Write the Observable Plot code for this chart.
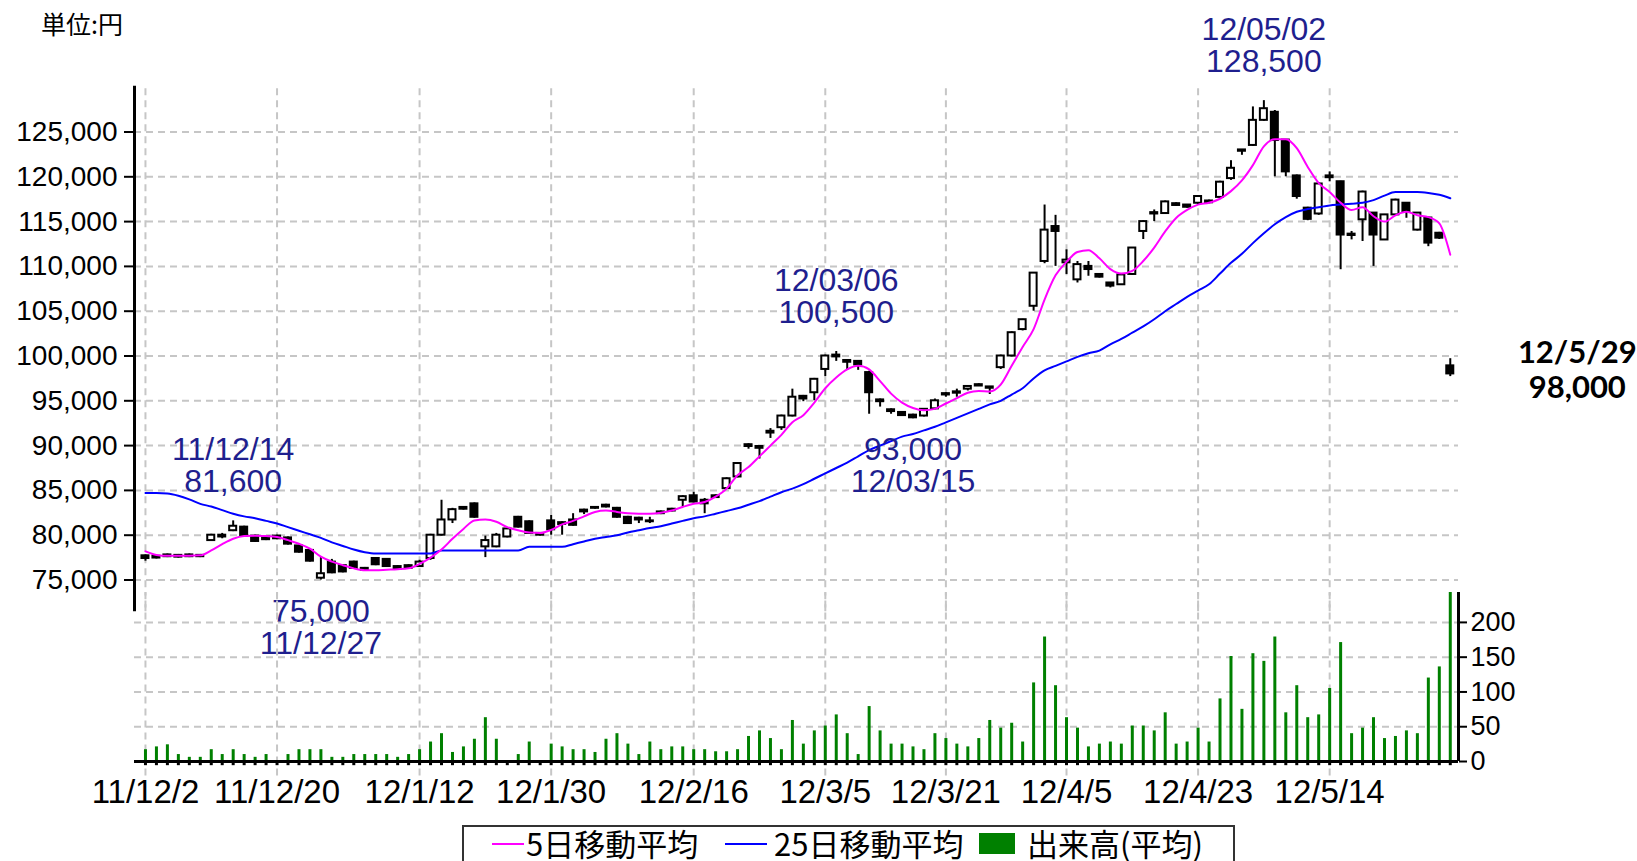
<!DOCTYPE html>
<html><head><meta charset="utf-8">
<script src="https://cdn.jsdelivr.net/npm/d3@7"></script>
<script src="https://cdn.jsdelivr.net/npm/@observablehq/plot@0.6"></script>
<style>
html,body{margin:0;padding:0;background:#fff;}
#wrap{position:relative;width:1637px;height:861px;overflow:hidden;background:#fff;}
#wrap svg{position:absolute;left:0;top:0;}
#unit{position:absolute;left:41px;top:5px;font:25px "Noto Sans CJK JP",sans-serif;color:#000;}
#legend{position:absolute;left:462px;top:825px;width:769px;height:34px;border:2px solid #333;border-bottom:none;background:#fff;font:31px/1.04 "Noto Sans CJK JP",sans-serif;color:#000;overflow:hidden;}
#legend .sw{position:absolute;}
#legend .tx{position:absolute;top:0px;white-space:nowrap;}
</style></head><body>
<div id="wrap"></div>
<script>
const dates = ["11/12/2","11/12/5","11/12/6","11/12/7","11/12/8","11/12/9","11/12/12","11/12/13","11/12/14","11/12/15","11/12/16","11/12/19","11/12/20","11/12/21","11/12/22","11/12/26","11/12/27","11/12/28","11/12/29","11/12/30",
"12/1/4","12/1/5","12/1/6","12/1/10","12/1/11","12/1/12","12/1/13","12/1/16","12/1/17","12/1/18","12/1/19","12/1/20","12/1/23","12/1/24","12/1/25","12/1/26","12/1/27","12/1/30","12/1/31",
"12/2/1","12/2/2","12/2/3","12/2/6","12/2/7","12/2/8","12/2/9","12/2/10","12/2/13","12/2/14","12/2/15","12/2/16","12/2/17","12/2/20","12/2/21","12/2/22","12/2/23","12/2/24","12/2/27","12/2/28","12/2/29",
"12/3/1","12/3/2","12/3/5","12/3/6","12/3/7","12/3/8","12/3/9","12/3/12","12/3/13","12/3/14","12/3/15","12/3/16","12/3/19","12/3/21","12/3/22","12/3/23","12/3/26","12/3/27","12/3/28","12/3/29","12/3/30",
"12/4/2","12/4/3","12/4/4","12/4/5","12/4/6","12/4/9","12/4/10","12/4/11","12/4/12","12/4/13","12/4/16","12/4/17","12/4/18","12/4/19","12/4/20","12/4/23","12/4/24","12/4/25","12/4/26","12/4/27",
"12/5/1","12/5/2","12/5/7","12/5/8","12/5/9","12/5/10","12/5/11","12/5/14","12/5/15","12/5/16","12/5/17","12/5/18","12/5/21","12/5/22","12/5/23","12/5/24","12/5/25","12/5/28","12/5/29"];

const open = [77700,77650,77800,77750,77800,77750,79400,79800,80500,80900,79900,79800,79900,79700,78800,78300,75200,77000,76600,77000,
76300,77400,77300,76500,76600,76500,77400,80000,81700,82900,83500,78700,78700,79800,82000,81500,80200,81600,81400,81700,
82800,83100,83350,83000,82000,81900,81600,82600,82900,83900,84400,83900,84200,85200,86500,90100,89900,91400,92000,93300,
95500,95900,98500,99900,99500,99400,98150,95100,94000,93700,93400,93300,94100,95800,95850,96300,96800,96550,98700,100000,
102950,105550,110550,114450,110400,108500,110000,109100,108150,107950,109100,113900,115850,115900,117000,116850,117050,117300,117700,119800,
123000,123500,126300,127200,124100,120100,116500,115850,119900,119450,113450,115200,115950,112950,115750,117050,114050,115400,113700,98900];
const close = [77400,77450,77600,77550,77600,77600,80000,80000,81000,79900,79300,79500,79600,79000,78100,77100,75700,75800,75900,76300,
76100,76700,76500,76200,76300,77000,80000,81700,82850,83100,82000,79400,80000,80700,80900,80200,80000,80600,81200,81100,
82600,83000,83150,82000,81300,81700,81500,82400,82700,84300,83700,83500,84400,86300,88000,89900,89700,91600,93300,95400,
95200,97400,100000,100100,99300,99000,95900,94900,93800,93350,93100,94050,95000,95650,96000,96600,96650,96400,100000,102600,
104050,109250,114050,113900,110700,110200,109650,108800,107800,109050,112050,115000,116000,117200,116800,116600,117800,117100,119400,120950,
122850,126300,127600,124050,120550,117800,115250,119200,120100,113500,113600,118300,113500,115750,117400,116100,115950,112600,113150,98000];
const high = [77800,77700,77900,77850,77900,77850,80100,80200,81600,81000,80000,79900,80000,79800,78900,78400,77600,77300,76700,77100,
76400,77500,77400,76600,76700,77200,80100,83900,83000,83200,83600,79900,80200,80800,82100,81600,80300,82200,81500,82400,
82900,83200,83450,83100,82100,82000,82000,82700,83000,84400,84800,84100,84500,86400,88100,90200,90000,91900,93400,96300,
95600,97500,100100,100500,99600,99500,98300,95200,94100,93800,93500,94100,95200,95900,96300,96700,96900,96600,100100,102700,
104100,109300,116850,115700,111850,110550,110550,109200,108200,109100,112100,115100,116300,117300,117100,116900,117900,117400,119500,121800,
123050,127800,128500,127400,124100,120200,116600,119300,120550,119500,113900,118400,116000,115800,117500,117100,116000,115500,113800,99700];
const low = [77100,77350,77500,77450,77500,77500,79300,79600,80400,79800,79200,79400,79500,78900,78000,77000,75000,75700,75800,76200,
76000,76600,76400,76100,76200,76400,77200,79900,81300,82800,81900,77500,78600,79700,80800,80100,79900,80000,80000,81000,
82300,82900,83050,81900,81200,81300,81300,82300,82600,83100,83600,82400,84100,85100,86400,89600,88500,90800,91700,93200,
94900,95000,97700,99400,98400,98400,93500,94300,93500,93300,93000,93200,94000,95400,95400,96100,96600,95700,98500,99900,
102800,105000,110300,110000,109100,108150,108900,108700,107600,107900,109000,113000,115000,115800,116700,116500,116900,117000,117500,119600,
122400,123400,126200,120000,120000,117500,115100,115700,119440,109630,112960,112780,110000,112900,115600,115370,113950,112200,113000,97700];

const ma5 = [78200,77800,77700,77700,77700,77750,78300,79000,79600,79900,79950,79900,79800,79450,79050,78500,77600,77050,76650,76300,
76100,76100,76150,76200,76300,76800,77500,78400,79600,80700,81650,81750,81500,80900,80550,80300,80250,80600,81200,81600,
82100,82600,82750,82600,82450,82400,82400,82500,82750,83150,83500,83700,84300,85200,86700,87600,88800,90000,91200,92600,
93400,94800,96400,97600,98500,98900,98500,97200,95800,94800,94200,93950,94100,94700,95300,95900,96100,96050,96800,98900,
101000,103000,106300,109000,110500,111600,111800,110900,109700,109200,109500,110600,112100,113900,115400,116300,116900,117100,117550,118400,
119600,121300,123400,124200,124200,123200,121100,119300,118300,117100,116300,116600,115600,115000,115700,116100,115700,115500,114800,111300];
const ma25 = [84700,84700,84650,84400,84000,83500,83200,82800,82400,82100,81900,81600,81300,80900,80500,80100,79700,79200,78800,78400,
78100,77950,77950,77950,77950,77950,77950,78300,78300,78300,78300,78300,78300,78300,78300,78700,78700,78700,78700,79000,
79300,79600,79800,80000,80300,80550,80800,81000,81300,81600,81900,82100,82400,82700,83000,83400,83800,84300,84800,85200,
85700,86300,86900,87500,88100,88800,89500,90000,90500,91000,91300,91700,92100,92600,93100,93600,94100,94600,95000,95700,
96400,97500,98400,98900,99400,99900,100300,100600,101300,101900,102600,103300,104100,105000,105800,106600,107300,108000,109200,110400,
111400,112600,113700,114700,115500,116100,116400,116600,116800,116900,117000,117100,117400,117900,118300,118300,118300,118200,118000,117600];
const volume = [17,21,24,10,6,6,17,10,17,10,6,10,0,10,17,17,17,6,6,10,
10,10,10,6,10,17,28,40,13,21,32,63,32,0,10,28,0,25,21,17,
17,13,32,40,25,10,28,17,21,21,17,17,14,14,17,36,44,33,17,59,
25,44,51,67,40,10,79,44,25,25,21,17,40,33,25,21,33,59,48,55,
28,113,179,109,63,48,21,25,28,25,51,51,44,70,25,28,48,28,90,151,
75,155,144,179,70,109,63,67,105,171,40,48,63,33,36,44,40,120,136,243];

const tickDates = ["11/12/2","11/12/20","12/1/12","12/1/30","12/2/16","12/3/5","12/3/21","12/4/5","12/4/23","12/5/14"];
const priceTicks = [75000,80000,85000,90000,95000,100000,105000,110000,115000,120000,125000];
const volumeTicks = [0,50,100,150,200];
const highNotes = [{date:"11/12/14", text:"11/12/14\n81,600", value:81600},{date:"12/3/6", text:"12/03/06\n100,500", value:100500},{date:"12/5/2", text:"12/05/02\n128,500", value:128500}];
const lowNotes = [{date:"11/12/27", text:"75,000\n11/12/27", value:75000},{date:"12/3/15", text:"93,000\n12/03/15", value:93000}];
const lastNote = [{date:"12/5/29", text:"12/5/29\n98,000", value:98000}];

const idx = d => dates.indexOf(d);
const n = dates.length;
const candles = dates.map((d,i)=>({i, o:open[i], h:high[i], l:low[i], c:close[i]}));
const ups = candles.filter(d=>d.c>=d.o), downs = candles.filter(d=>d.c<d.o);
const ma5Data = ma5.map((v,i)=>({i,v})), ma25Data = ma25.map((v,i)=>({i,v}));
const volData = volume.map((v,i)=>({i,v})).filter(d=>d.v>0);
const tickIdx = tickDates.map(idx);
const XMIN = -1, XMAX = 119.75;
const grid = {stroke:"#c6c6c6", strokeWidth:2, strokeDasharray:"7,5"};
const navy = "#1f1f8e";
const annFont = "Liberation Sans, Arial, sans-serif";
const common = {width:1637, height:861, marginLeft:134, marginRight:179,
  x:{domain:[XMIN,XMAX], range:[134,1458], axis:null}};

const price = Plot.plot({...common, marginTop:0, marginBottom:0,
  y:{domain:[75000,125000], range:[579.5,131.5], axis:null},
  style:{background:"transparent", fontFamily:annFont, fontSize:"28px", color:"#000"},
  marks:[
    Plot.ruleY(priceTicks, {y:d=>d, x1:XMIN, x2:XMAX, ...grid}),
    Plot.ruleX(tickIdx, {x:d=>d, y1:71450, y2:130100, ...grid}),
    Plot.ruleX(candles, {x:"i", y1:"l", y2:"h", stroke:"#000", strokeWidth:2}),
    Plot.rect(ups, {x1:d=>d.i-0.32, x2:d=>d.i+0.32, y1:"o", y2:"c", fill:"#fff", stroke:"#000", strokeWidth:2}),
    Plot.rect(downs, {x1:d=>d.i-0.32, x2:d=>d.i+0.32, y1:"o", y2:"c", fill:"#000", stroke:"#000", strokeWidth:2}),
    Plot.line(ma25Data, {x:"i", y:"v", stroke:"#0000ff", strokeWidth:2, curve:"monotone-x"}),
    Plot.line(ma5Data, {x:"i", y:"v", stroke:"#ff00ff", strokeWidth:2, curve:"monotone-x"}),
    Plot.ruleX([XMIN], {y1:71450, y2:130100, stroke:"#000", strokeWidth:3}),
    Plot.axisY(priceTicks, {anchor:"left", tickSize:10, tickPadding:7, tickFormat:d3.format(","), label:null, stroke:"#000", strokeWidth:2}),
    Plot.text(highNotes, {x:d=>idx(d.date), y:"value", text:"text", lineAnchor:"bottom", dy:-29, fill:navy, fontSize:32, lineHeight:1.0, fontFamily:annFont}),
    Plot.text(lowNotes, {x:d=>idx(d.date), y:"value", text:"text", lineAnchor:"top", dy:19, fill:navy, fontSize:32, lineHeight:1.0, fontFamily:annFont}),
    Plot.text(lastNote, {x:d=>idx(d.date), y:"value", text:"text", dx:127, dy:-5, fill:"#000", fontSize:31, fontWeight:"bold", lineHeight:1.14, fontFamily:"Lato, Open Sans, sans-serif"})
  ]});

const vol = Plot.plot({...common, marginTop:0, marginBottom:100,
  y:{domain:[0,243], range:[761,592], axis:null},
  style:{background:"transparent", fontFamily:annFont, fontSize:"27px", color:"#000"},
  marks:[
    Plot.ruleY([50,100,150,200], {y:d=>d, x1:XMIN, x2:XMAX, ...grid}),
    Plot.ruleX(tickIdx, {x:d=>d, y1:-21, y2:243, ...grid}),
    Plot.ruleX(volData, {x:"i", y1:0, y2:"v", stroke:"#008000", strokeWidth:3}),
    Plot.ruleX(d3.range(n), {x:d=>d, y1:0, y2:-6, stroke:"#000", strokeWidth:3}),
    Plot.ruleY([0], {x1:XMIN, x2:XMAX, stroke:"#000", strokeWidth:3}),
    Plot.ruleX([XMAX], {y1:0, y2:243, stroke:"#000", strokeWidth:3}),
    Plot.axisY(volumeTicks, {anchor:"right", tickSize:8, tickPadding:4, label:null, stroke:"#000", strokeWidth:2}),
    Plot.axisX(tickIdx, {anchor:"bottom", tickSize:0, tickPadding:18, tickFormat:i=>dates[i], label:null, fontSize:33})
  ]});

const wrap = document.getElementById("wrap");
wrap.appendChild(price);
wrap.appendChild(vol);

const unit = document.createElement("div");
unit.id = "unit"; unit.textContent = "単位:円";
wrap.appendChild(unit);

const legendItems = [
  {label:"5日移動平均", color:"#ff00ff", kind:"line", sx:28, sw:32, tx:62},
  {label:"25日移動平均", color:"#0000ff", kind:"line", sx:261, sw:42, tx:310},
  {label:"出来高(平均)", color:"#008000", kind:"box", sx:515, sw:36, tx:563}
];
const legend = document.createElement("div");
legend.id = "legend";
for (const it of legendItems) {
  const s = document.createElement("div");
  s.className = "sw";
  s.style.left = it.sx + "px"; s.style.width = it.sw + "px"; s.style.background = it.color;
  if (it.kind === "line") { s.style.top = "16px"; s.style.height = "2px"; }
  else { s.style.top = "6px"; s.style.height = "21px"; }
  legend.appendChild(s);
  const t = document.createElement("div");
  t.className = "tx"; t.style.left = it.tx + "px"; t.textContent = it.label;
  legend.appendChild(t);
}
wrap.appendChild(legend);
</script>
</body></html>
